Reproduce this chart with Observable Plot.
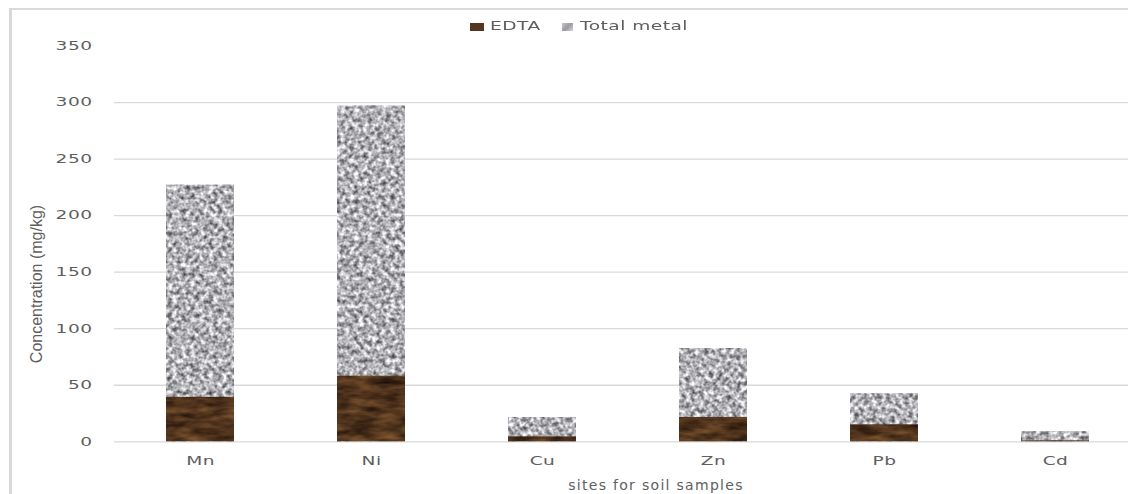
<!DOCTYPE html>
<html>
<head>
<meta charset="utf-8">
<script src="https://cdn.jsdelivr.net/npm/d3@7"></script>
<script src="https://cdn.jsdelivr.net/npm/@observablehq/plot@0.6"></script>
<style>
  html, body { margin: 0; padding: 0; background: #fff; }
  #wrap { position: relative; width: 1128px; height: 494px; overflow: hidden; background: #fff; }
  #frame { position: absolute; left: 9px; top: 8px; width: 1300px; height: 600px;
           border-left: 3px solid #d9d9d9; border-top: 2px solid #d9d9d9; box-sizing: border-box; }
  #chart { position: absolute; left: 0; top: 0; }
  .lbl { position: absolute; color: #5e5e5e; font-family: "DejaVu Sans", sans-serif; white-space: nowrap; }
  .wide { transform: scaleX(1.55); transform-origin: 0 50%; letter-spacing: 0.3px; font-size: 12px; }
  .sw { position: absolute; }
</style>
</head>
<body>
<svg width="0" height="0" style="position:absolute">
  <defs>
    <filter id="granite" filterUnits="userSpaceOnUse" x="0" y="0" width="1200" height="520" color-interpolation-filters="sRGB">
      <feTurbulence type="fractalNoise" baseFrequency="0.22" numOctaves="2" seed="7" result="n"/>
      <feColorMatrix in="n" type="matrix" values="1.2 0 0 0 0.09  1.2 0 0 0 0.09  1.2 0 0 0 0.11  0 0 0 0 1" result="g"/>
      <feComposite in="g" in2="SourceGraphic" operator="in"/>
    </filter>
    <filter id="wood" filterUnits="userSpaceOnUse" x="0" y="0" width="1200" height="520" color-interpolation-filters="sRGB">
      <feTurbulence type="fractalNoise" baseFrequency="0.04 0.14" numOctaves="3" seed="3" result="n"/>
      <feColorMatrix in="n" type="matrix" values="0.5 0 0 0 0.06  0.36 0 0 0 0.02  0.2 0 0 0 0.01  0 0 0 0 1" result="g"/>
      <feComposite in="g" in2="SourceGraphic" operator="in"/>
    </filter>
  </defs>
</svg>
<div id="wrap">
  <div id="frame"></div>
  <div id="chart"></div>
  <div class="sw" style="left:470px;top:23px;width:14px;height:8px;background:#553520;"></div>
  <div class="lbl wide" style="left:490px;top:19px;">EDTA</div>
  <div class="sw" style="left:562px;top:23px;width:11px;height:8px;background:linear-gradient(135deg,#c8c8cc,#9a9aa0,#d4d4d8);"></div>
  <div class="lbl wide" style="left:580px;top:19px;">Total metal</div>
  <div class="lbl" style="left:37px;top:284px;transform:translate(-50%,-50%) rotate(-90deg);font-family:'Liberation Sans Narrow',sans-serif;font-size:16px;">Concentration (mg/kg)</div>
  <div class="lbl" style="left:656px;top:485px;transform:translate(-50%,-50%);font-size:14px;letter-spacing:1.3px;">sites for soil samples</div>
</div>
<script>
const metals = ["Mn", "Ni", "Cu", "Zn", "Pb", "Cd"];
const totalMetal = [227, 297, 21.5, 82.5, 42.5, 9];
const edtaValues = [39.3, 58, 4.4, 21.5, 15, 0.8];
const yTicks = [0, 50, 100, 150, 200, 250, 300, 350];
const gridTicks = [0, 50, 100, 150, 200, 250, 300];

const rows = metals.map((m, i) => ({metal: m, total: totalMetal[i], edta: edtaValues[i]}));

const chart = Plot.plot({
  width: 1128,
  height: 494,
  marginLeft: 114,
  marginRight: 0,
  marginTop: 40,
  marginBottom: 52.7,
  style: {fontFamily: "DejaVu Sans, sans-serif", fontSize: "12px", color: "#5e5e5e", background: "transparent"},
  x: {domain: metals, range: [114.5, 1140.5], paddingInner: 0.6, paddingOuter: 0.3},
  y: {domain: [0, 350], range: [441.3, 45.5]},
  marks: [
    Plot.ruleY(gridTicks, {stroke: "#d9d9d9", strokeWidth: 1.3}),
    Plot.barY(rows, {x: "metal", y: "total", fill: "#b5b5ba"}),
    Plot.barY(rows, {x: "metal", y: "edta", fill: "#553520"}),
    Plot.axisY({ticks: yTicks, tickSize: 0, tickPadding: 22, label: null, fill: "#5e5e5e"}),
    Plot.axisX({tickSize: 0, tickPadding: 15, label: null, fill: "#5e5e5e"})
  ]
});
document.getElementById("chart").appendChild(chart);

// textured fills
const bars = chart.querySelectorAll('g[aria-label="bar"]');
if (bars[0]) bars[0].setAttribute("filter", "url(#granite)");
if (bars[1]) bars[1].setAttribute("filter", "url(#wood)");

// horizontally widened tick labels, as in the reference rendering
chart.querySelectorAll('g[aria-label="y-axis tick label"] text, g[aria-label="x-axis tick label"] text').forEach(t => {
  t.style.letterSpacing = "0.3px";
  const tr = t.getAttribute("transform");
  if (tr) {
    t.setAttribute("transform", tr + " scale(1.55,1)");
  } else {
    const x = +(t.getAttribute("x") || 0), y = +(t.getAttribute("y") || 0);
    t.removeAttribute("x"); t.removeAttribute("y");
    t.setAttribute("transform", `translate(${x},${y}) scale(1.55,1)`);
  }
});
</script>
</body>
</html>
